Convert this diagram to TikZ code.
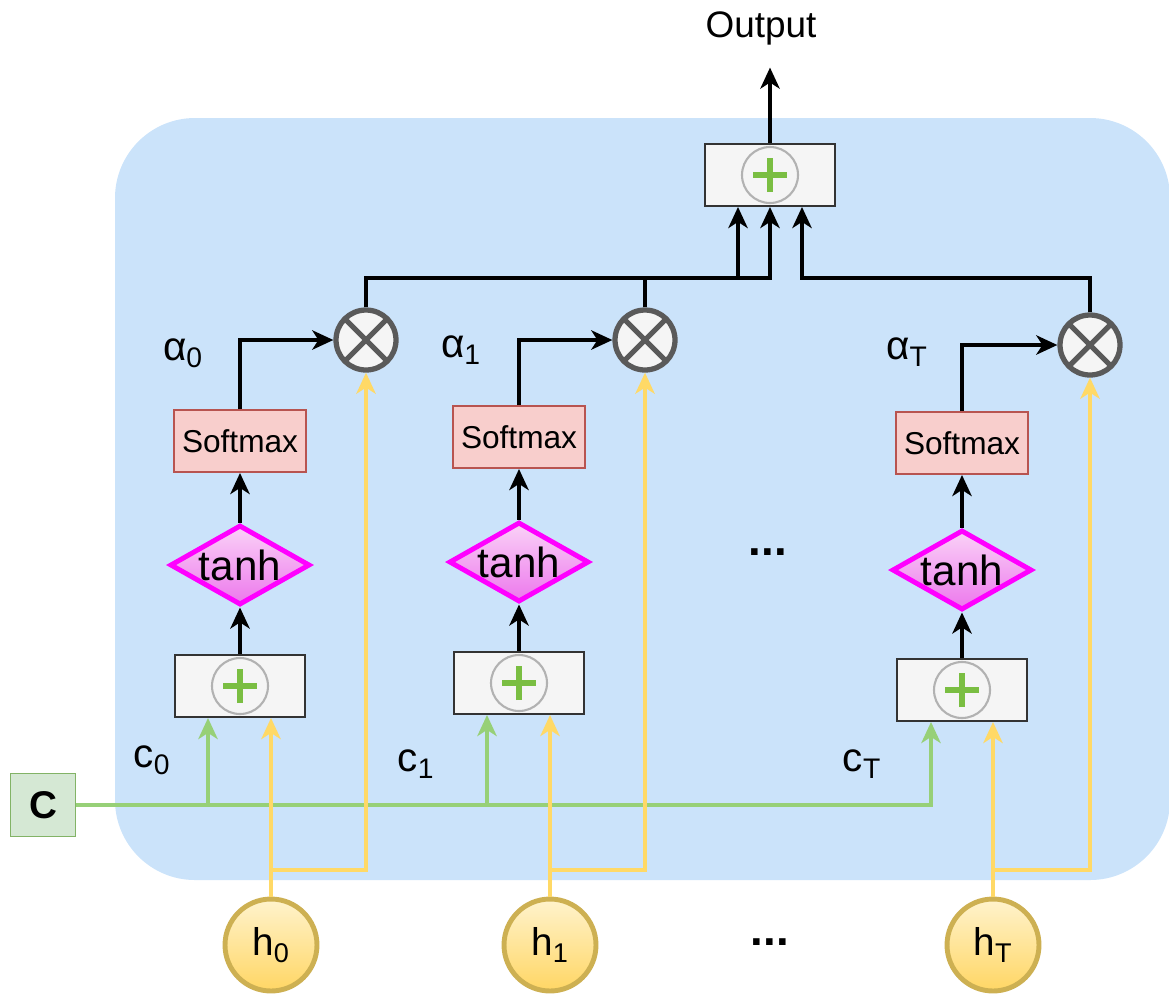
\documentclass[tikz,border=0pt]{standalone}
\usepackage{fontspec}
\setmainfont{Liberation Sans}
\usepackage{tikz}
\usetikzlibrary{shapes,arrows.meta,positioning}

\definecolor{bgblue}{RGB}{203,227,250}
\definecolor{boxfill}{RGB}{245,245,245}
\definecolor{boxline}{RGB}{51,51,51}
\definecolor{plusring}{RGB}{178,178,178}
\definecolor{plusgreen}{RGB}{122,190,66}
\definecolor{mulgray}{RGB}{90,90,90}
\definecolor{smaxfill}{RGB}{248,206,204}
\definecolor{smaxline}{RGB}{184,84,80}
\definecolor{tanhline}{RGB}{255,0,255}
\definecolor{tanhtop}{RGB}{250,210,247}
\definecolor{tanhbot}{RGB}{236,120,236}
\definecolor{hline}{RGB}{205,176,82}
\definecolor{hlight}{RGB}{255,243,205}
\definecolor{hdark}{RGB}{255,214,100}
\definecolor{cfill}{RGB}{213,232,212}
\definecolor{cline}{RGB}{130,179,102}
\definecolor{lgreen}{RGB}{151,208,119}
\definecolor{lyellow}{RGB}{255,217,102}

\begin{document}
\begin{tikzpicture}[
    x=0.02cm, y=-0.02cm,
    lbl/.style={inner sep=0pt, font=\fontsize{21}{25}\selectfont},
    sumbox/.style={draw=boxline, fill=boxfill, line width=1.1pt, minimum width=2.6cm, minimum height=1.24cm},
    plusc/.style={circle, draw=plusring, fill=boxfill, line width=1.2pt, minimum size=1.12cm, inner sep=0pt,
        path picture={
            \draw[plusgreen, line width=3.4pt]
                ([xshift=-0.34cm]path picture bounding box.center) -- ([xshift=0.34cm]path picture bounding box.center)
                ([yshift=-0.34cm]path picture bounding box.center) -- ([yshift=0.34cm]path picture bounding box.center);
        }},
    mulc/.style={circle, draw=mulgray, fill=boxfill, line width=3pt, minimum size=1.2cm, inner sep=0pt,
        path picture={
            \draw[mulgray, line width=3pt]
                (path picture bounding box.north west) -- (path picture bounding box.south east)
                (path picture bounding box.south west) -- (path picture bounding box.north east);
        }},
    smax/.style={draw=smaxline, fill=smaxfill, line width=1.1pt, minimum width=2.64cm, minimum height=1.24cm,
        font=\fontsize{18}{22}\selectfont},
    tanhd/.style={diamond, draw=tanhline, line width=2.8pt, top color=tanhtop, bottom color=tanhbot,
        aspect=1.75, inner sep=0pt, minimum width=2.8cm, minimum height=1.6cm, font=\fontsize{24}{28}\selectfont},
    hnode/.style={circle, draw=hline, line width=2.8pt, top color=hlight, bottom color=hdark,
        minimum size=1.84cm, inner sep=0pt, font=\fontsize{22}{26}\selectfont},
    cnode/.style={draw=cline, fill=cfill, line width=1.1pt, minimum width=1.3cm, minimum height=1.26cm,
        font=\bfseries\fontsize{22}{26}\selectfont},
    blk/.style={-{Stealth[length=12pt,width=11pt,inset=3.5pt]}, line width=2.5pt},
    grn/.style={-{Stealth[length=12pt,width=11pt,inset=3.5pt]}, draw=lgreen, line width=2.1pt},
    ylw/.style={-{Stealth[length=12pt,width=11pt,inset=3.5pt]}, draw=lyellow, line width=2.1pt}
]
\useasboundingbox (0,0) rectangle (1169,995);

% background panel
\fill[bgblue, rounded corners=1.6cm] (115,118) rectangle (1170,880);

\node[lbl] (out) at (761,28) {Output};
\node[sumbox] (sumtop) at (770,175) {};
\node[plusc] (ptop) at (770,175) {};

% column 0
\node[sumbox] (s0) at (240,686) {};
\node[plusc] (p0) at (240,686) {};
\node[tanhd] (t0) at (240,565) {tanh};
\node[smax] (f0) at (240,441) {Softmax};
\node[mulc] (m0) at (366,340) {};
\node[lbl, font=\fontsize{23}{27}\selectfont] (a0) at (183,353) {α\textsubscript{0}};
\node[lbl, font=\fontsize{23}{27}\selectfont] (c0) at (152,760) {c\textsubscript{0}};
\node[hnode] (h0) at (271,945) {h\textsubscript{0}};

% column 1
\node[sumbox] (s1) at (519,683) {};
\node[plusc] (p1) at (519,683) {};
\node[tanhd] (t1) at (519,562) {tanh};
\node[smax] (f1) at (519,437) {Softmax};
\node[mulc] (m1) at (645,340) {};
\node[lbl, font=\fontsize{23}{27}\selectfont] (a1) at (461,350) {α\textsubscript{1}};
\node[lbl, font=\fontsize{23}{27}\selectfont] (c1) at (416,764) {c\textsubscript{1}};
\node[hnode] (h1) at (550,945) {h\textsubscript{1}};

% column T
\node[sumbox] (sT) at (962,690) {};
\node[plusc] (pT) at (962,690) {};
\node[tanhd] (tT) at (962,570) {tanh};
\node[smax] (fT) at (962,443) {Softmax};
\node[mulc] (mT) at (1090,345) {};
\node[lbl, font=\fontsize{23}{27}\selectfont] (aT) at (907,352) {α\textsubscript{T}};
\node[lbl, font=\fontsize{23}{27}\selectfont] (cT) at (862,764) {c\textsubscript{T}};
\node[hnode] (hT) at (993,945) {h\textsubscript{T}};

\node[cnode] (cbox) at (43,805) {C};
\node[lbl, font=\bfseries\fontsize{26}{30}\selectfont] (dots1) at (768,552) {...};
\node[lbl, font=\bfseries\fontsize{26}{30}\selectfont] (dots2) at (770,942) {...};

\coordinate (j0) at (770,278);
\coordinate (j1) at (738,278);
\coordinate (j2) at (802,278);
\coordinate (yb) at (0,870);
\coordinate (g0) at ([xshift=-0.64cm]s0.south);
\coordinate (g1) at ([xshift=-0.64cm]s1.south);
\coordinate (gT) at ([xshift=-0.62cm]sT.south);

% black arrows
\draw[blk, shorten >=0.45cm] (sumtop.north) -- (sumtop.north |- out.south);
\draw[blk] (s0) -- (t0);
\draw[blk] (t0) -- (f0);
\draw[blk] (f0.north) |- (m0.west);
\draw[blk] (s1) -- (t1);
\draw[blk] (t1) -- (f1);
\draw[blk] (f1.north) |- (m1.west);
\draw[blk] (sT) -- (tT);
\draw[blk] (tT) -- (fT);
\draw[blk] (fT.north) |- (mT.west);
\draw[blk] (m0.north) |- (j0) -- (sumtop.south);
\draw[blk] (m1.north) |- (j1) -- (j1 |- sumtop.south);
\draw[blk] (mT.north) |- (j2) -- (j2 |- sumtop.south);

% context vector
\draw[grn] (cbox.east) -| (gT);
\draw[grn] (g0 |- cbox) -- (g0);
\draw[grn] (g1 |- cbox) -- (g1);

% hidden states
\draw[ylw] (h0.north) -- (h0.north |- s0.south);
\draw[ylw] (h0.north) -- (h0 |- yb) -| (m0.south);
\draw[ylw] (h1.north) -- (h1.north |- s1.south);
\draw[ylw] (h1.north) -- (h1 |- yb) -| (m1.south);
\draw[ylw] (hT.north) -- (hT.north |- sT.south);
\draw[ylw] (hT.north) -- (hT |- yb) -| (mT.south);
\end{tikzpicture}
\end{document}
